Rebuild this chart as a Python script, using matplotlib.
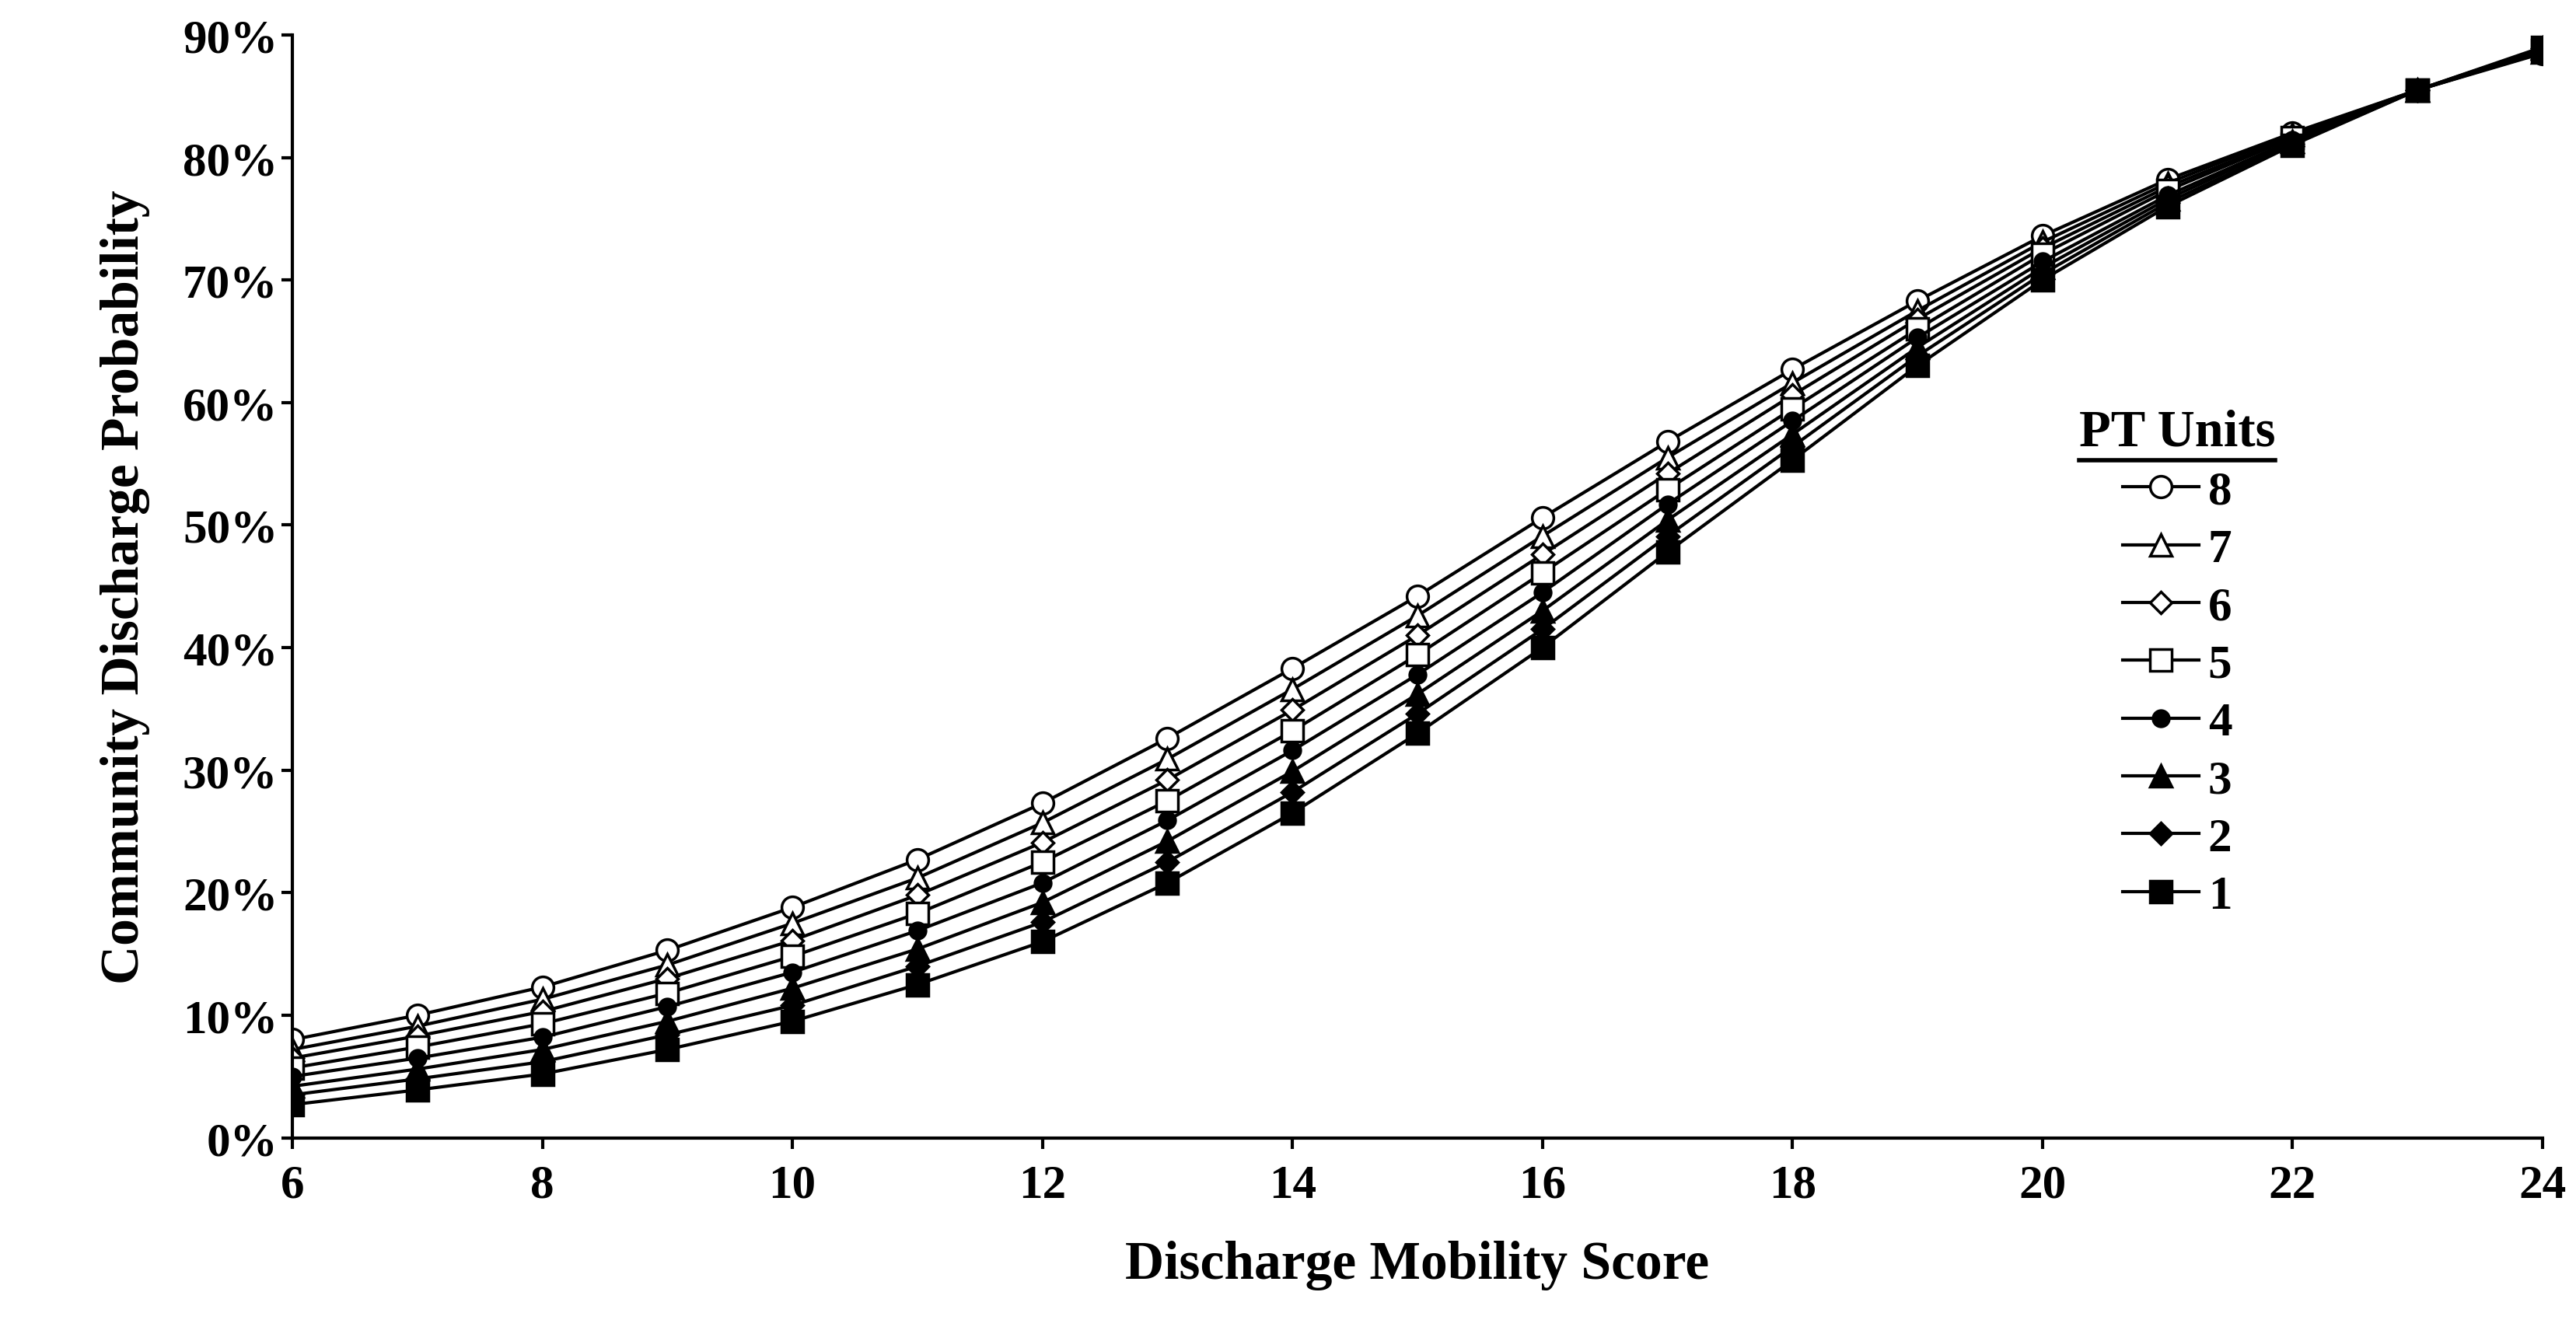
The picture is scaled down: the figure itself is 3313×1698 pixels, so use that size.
import matplotlib
matplotlib.use("Agg")
import matplotlib.pyplot as plt
from matplotlib.ticker import FuncFormatter

plt.rcParams['font.family'] = ['Liberation Serif', 'DejaVu Serif']
plt.rcParams['font.weight'] = 'bold'

scores = list(range(6, 25))
pt_units = [8, 7, 6, 5, 4, 3, 2, 1]
s1 = [2.7,3.9,5.2,7.2,9.5,12.5,16.0,20.8,26.5,33.0,40.0,47.8,55.3,63.0,70.0,76.0,81.0,85.5,89.0]
s2 = [3.5,4.8,6.2,8.4,10.8,14.0,17.6,22.5,28.2,34.6,41.5,49.1,56.4,63.8,70.5,76.3,81.1,85.5,88.9]
s3 = [4.2,5.6,7.2,9.5,12.2,15.4,19.2,24.2,29.9,36.2,43.0,50.4,57.4,64.5,71.0,76.6,81.3,85.5,88.9]
s4 = [5.0,6.5,8.2,10.7,13.5,16.9,20.8,25.9,31.6,37.8,44.5,51.7,58.5,65.3,71.5,76.9,81.4,85.5,88.8]
s5 = [5.7,7.4,9.3,11.8,14.8,18.3,22.5,27.5,33.2,39.4,46.1,52.9,59.5,66.0,72.1,77.3,81.6,85.5,88.7]
s6 = [6.5,8.3,10.3,13.0,16.1,19.8,24.1,29.2,34.9,41.0,47.6,54.2,60.6,66.8,72.6,77.6,81.7,85.5,88.6]
s7 = [7.2,9.1,11.3,14.1,17.5,21.2,25.7,30.9,36.6,42.6,49.1,55.5,61.6,67.5,73.1,77.9,81.9,85.5,88.6]
s8 = [8.0,10.0,12.3,15.3,18.8,22.7,27.3,32.6,38.3,44.2,50.6,56.8,62.7,68.3,73.6,78.2,82.0,85.5,88.5]
series = [s8, s7, s6, s5, s4, s3, s2, s1]
markers = ['o', '^', 'D', 's', 'o', '^', 'D', 's']
fills = ['white']*4 + ['black']*4
sizes = [20, 20, 14, 20, 15, 20, 14, 20]

fig = plt.figure(figsize=(33.13, 16.99), dpi=100)
ax = fig.add_axes([0.1135, 0.138, 0.8735, 0.835])
for u, v, m, f, ms in zip(pt_units, series, markers, fills, sizes):
    ax.plot(scores, v, color='black', lw=3, marker=m, markersize=ms,
            markerfacecolor=f, markeredgecolor='black', markeredgewidth=2.5, label=str(u))

ax.set_xlim(6, 24)
ax.set_ylim(0, 90)
ax.set_xticks(range(6, 25, 2))
ax.set_yticks(range(0, 91, 10))
ax.yaxis.set_major_formatter(FuncFormatter(lambda v, p: f"{int(v)}%"))
ax.tick_params(labelsize=44, width=3, length=10)
ax.tick_params(axis='x', pad=14)
for lab in ax.get_xticklabels() + ax.get_yticklabels():
    lab.set_fontweight('bold')
for side in ['top', 'right']:
    ax.spines[side].set_visible(False)
for side in ['left', 'bottom']:
    ax.spines[side].set_linewidth(3)
ax.set_xlabel("Discharge Mobility Score", fontsize=50, fontweight='bold', labelpad=30)
ax.set_ylabel("Community Discharge Probability", fontsize=50, fontweight='bold', labelpad=30)

leg = ax.legend(loc='upper left', bbox_to_anchor=(0.775, 0.70), frameon=False,
                fontsize=44, title="PT Units", title_fontproperties={'size': 48, 'weight': 'bold'},
                handlelength=1.6, handletextpad=0.2, labelspacing=0.3, markerfirst=True)
fig.canvas.draw()
tb = leg.get_title().get_window_extent()
inv = fig.transFigure.inverted()
(x0, y0), (x1, y1) = inv.transform([(tb.x0, tb.y0), (tb.x1, tb.y0)])
fig.add_artist(plt.Line2D([x0, x1], [y0 - 0.003, y1 - 0.003], color='black', lw=4))

fig.savefig("out.png", dpi=100)
